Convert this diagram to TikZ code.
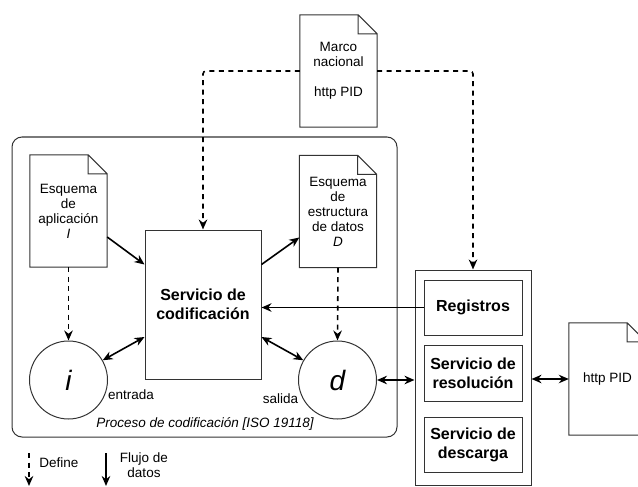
\documentclass[tikz,border=0pt]{standalone}
\usepackage{fontspec}
\setmainfont{Liberation Sans}
\usetikzlibrary{arrows.meta}
\tikzset{
  small/.style={font=\fontsize{13.5}{15}\selectfont},
  doc/.style={small, minimum width=77pt, minimum height=112pt, inner sep=0pt, align=center},
  svc/.style={draw=black!80, line width=1pt, font=\fontsize{16}{19}\selectfont\bfseries, align=center, inner sep=0pt},
  var/.style={draw=black!80, circle, line width=1pt, minimum size=78pt, inner sep=0pt, font=\fontsize{28}{28}\selectfont\itshape},
  flow/.style={line width=1.6pt, -{Stealth[length=10pt,width=8.5pt]}},
  both/.style={flow, {Stealth[length=10pt,width=8.5pt]}-{Stealth[length=10pt,width=8.5pt]}},
  defines/.style={flow, dash pattern=on 5pt off 4.5pt, rounded corners=3pt},
}
\newcommand\docframe[1]{%
  \draw[line width=1pt, black!80] (#1.south west) -- (#1.north west) -- ([xshift=-19pt]#1.north east)
    -- ([yshift=-19pt]#1.north east) -- (#1.south east) -- cycle
    ([xshift=-19pt]#1.north east) |- ([yshift=-19pt]#1.north east);}
\begin{document}
\begin{tikzpicture}[x=1pt,y=-1pt]
  \useasboundingbox (0,0) rectangle (638,487);
  % encoding process
  \draw[line width=1pt, black!80, rounded corners=10pt] (12,137) rectangle (397,437);
  \node[small, font=\fontsize{13.5}{15}\selectfont\itshape] (proc) at (205,424) {Proceso de codificación [ISO 19118]};
  % documents
  \node[doc] (marco) at (338.5,71) {Marco\\nacional\\[15pt]http PID};
  \node[doc] (app) at (68.5,211) {Esquema\\de\\aplicación\\\textit{I}};
  \node[doc] (struct) at (338,211.5) {Esquema\\de\\estructura\\de datos\\\textit{D}};
  \node[doc] (pid) at (607.5,379) {http PID};
  \docframe{marco}
  \docframe{app}
  \docframe{struct}
  \docframe{pid}
  % services
  \node[svc, minimum width=116pt, minimum height=149pt] (coding) at (203,304.5) {Servicio de\\codificación};
  \node[draw=black!80, line width=1pt, minimum width=116pt, minimum height=215pt] (pidsys) at (473,377.5) {};
  \node[svc, minimum width=98pt, minimum height=55pt] (reg) at (473,307.5) {Registros};
  \node[svc, minimum width=98pt, minimum height=56pt] (resol) at (473,373) {Servicio de\\resolución};
  \node[svc, minimum width=98pt, minimum height=55pt] (desc) at (473,444.5) {Servicio de\\descarga};
  % data
  \node[var] (i) at (68.5,380) {i};
  \node[var] (d) at (337.5,380) {d};
  \node[small] (inlbl) at (131,395) {entrada};
  \node[small] (outlbl) at (280.5,399) {salida};
  % defines
  \draw[defines] (marco.west) -| (coding.north);
  \draw[defines] (marco.east) -| (pidsys.north);
  \draw[defines] (app.south) -- (i.north);
  \draw[defines] (struct.south) -- (d.north);
  % data flow
  \draw[flow] ([yshift=-26pt]app.east) -- ([yshift=40pt]coding.west);
  \draw[flow] ([yshift=40pt]coding.east) -- ([yshift=-26pt]struct.west);
  \draw[flow] (reg.west) -- (coding.east |- reg.west);
  \draw[both] (i.30) -- ([yshift=-32.5pt]coding.west);
  \draw[both] ([yshift=-32.5pt]coding.east) -- (d.150);
  \draw[both] (d.east) -- (d.east -| pidsys.west);
  \draw[both] (pidsys.east |- pid.west) -- (pid.west);
  % legend
  \coordinate (defA) at (29,453);
  \coordinate (defB) at (29,486);
  \coordinate (flowA) at (106,453);
  \coordinate (flowB) at (106,486);
  \draw[defines] (defA) -- (defB);
  \draw[flow] (flowA) -- (flowB);
  \node[small] (deflbl) at (59,463) {Define};
  \node[small, align=center] (flowlbl) at (144,465) {Flujo de\\datos};
\end{tikzpicture}
\end{document}
